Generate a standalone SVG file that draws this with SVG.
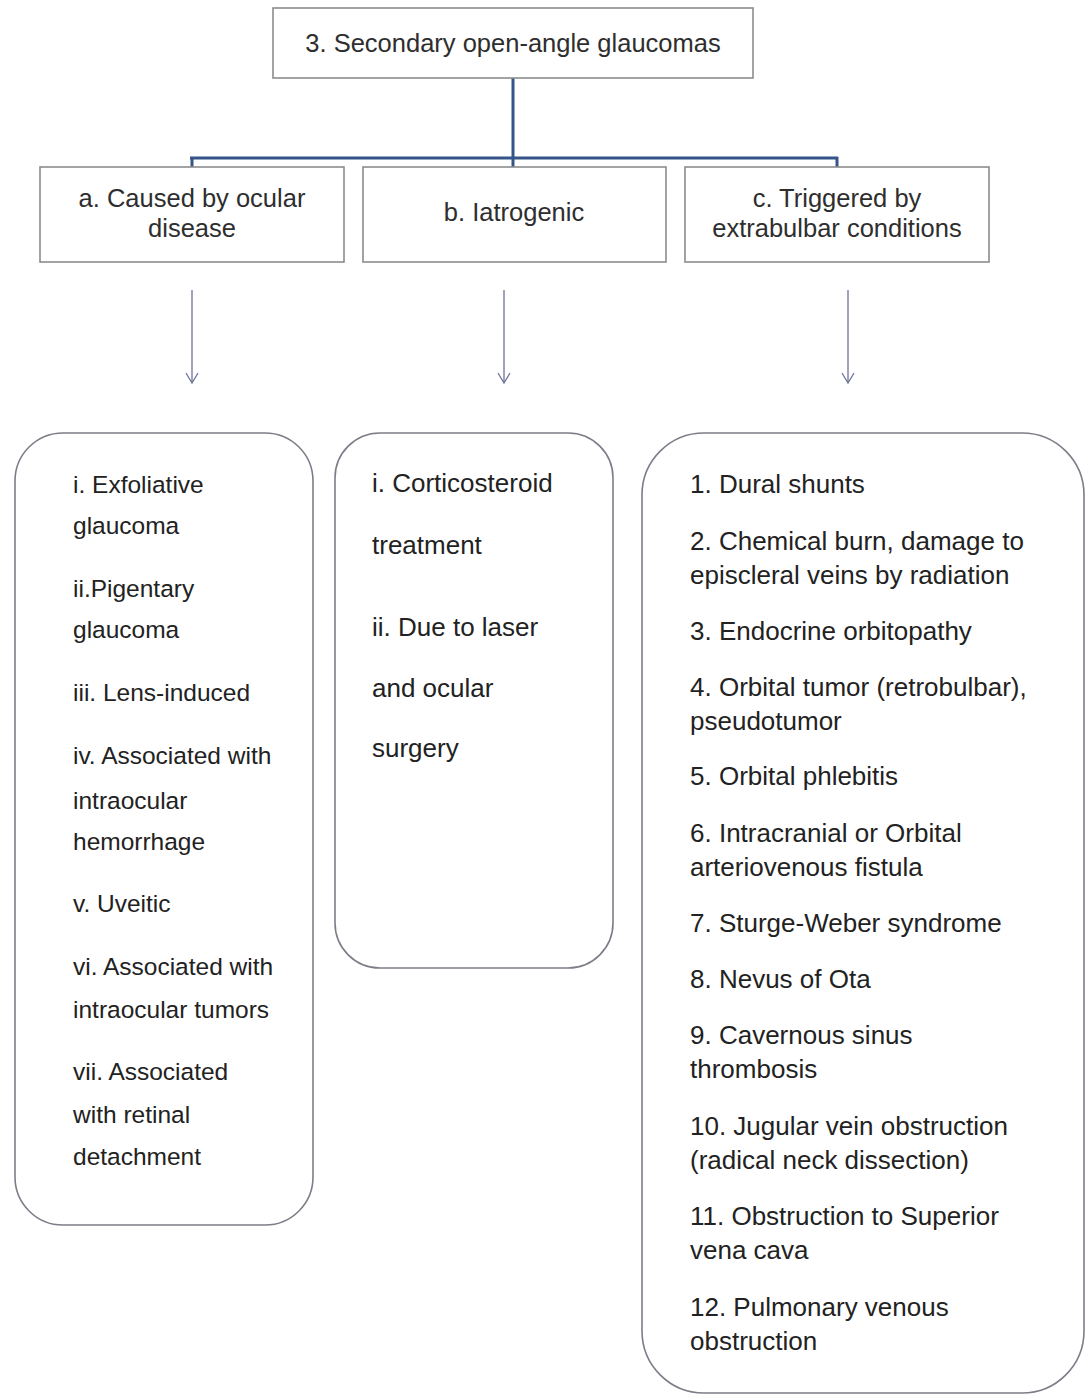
<svg xmlns="http://www.w3.org/2000/svg" width="1085" height="1396" viewBox="0 0 1085 1396">
<defs>
<style>
.box{fill:#fff;stroke:#8c8c8c;stroke-width:1.6}
.rbox{fill:#fff;stroke:#7d7d88;stroke-width:1.6}
.hd{font-family:"Liberation Sans",Arial,sans-serif;font-size:25.5px;fill:#2e2e2e;text-anchor:middle}
.it{font-family:"Liberation Sans",Arial,sans-serif;font-size:24.5px;fill:#222}
.it2{font-family:"Liberation Sans",Arial,sans-serif;font-size:26px;fill:#222}
.con{fill:none;stroke:#34548a;stroke-width:3}
.arr{fill:none;stroke:#6e7299;stroke-width:1.3}
</style>
<marker id="vh" viewBox="0 0 14 14" refX="13" refY="7" markerWidth="14" markerHeight="14" markerUnits="userSpaceOnUse" orient="auto">
<path d="M3,1 L13,7 L3,13" fill="none" stroke="#6e7299" stroke-width="1.3"/>
</marker>
</defs>
<rect width="1085" height="1396" fill="#fff"/>

<g id="connectors">
<path class="con" d="M513,78 V167"/>
<path class="con" d="M190,158 H838"/>
<path class="con" d="M192,157 V167"/>
<path class="con" d="M837,157 V167"/>
<path class="arr" d="M192,290 V383" marker-end="url(#vh)"/>
<path class="arr" d="M504,290 V383" marker-end="url(#vh)"/>
<path class="arr" d="M848,290 V383" marker-end="url(#vh)"/>
</g>

<g id="root">
<rect class="box" x="273" y="8" width="480" height="70"/>
<text class="hd" x="513" y="52">3. Secondary open-angle glaucomas</text>
</g>

<g id="a">
<rect class="box" x="40" y="167" width="304" height="95"/>
<text class="hd" x="192" y="207">a. Caused by ocular</text>
<text class="hd" x="192" y="237">disease</text>
</g>

<g id="b">
<rect class="box" x="363" y="167" width="303" height="95"/>
<text class="hd" x="514" y="221">b. Iatrogenic</text>
</g>

<g id="c">
<rect class="box" x="685" y="167" width="304" height="95"/>
<text class="hd" x="837" y="207">c. Triggered by</text>
<text class="hd" x="837" y="237">extrabulbar conditions</text>
</g>

<g id="a-list">
<rect class="rbox" x="15" y="433" width="298" height="792" rx="48" ry="48"/>
<text class="it" x="73" y="493">i. Exfoliative</text>
<text class="it" x="73" y="534">glaucoma</text>
<text class="it" x="73" y="597">ii.Pigentary</text>
<text class="it" x="73" y="638">glaucoma</text>
<text class="it" x="73" y="701">iii. Lens-induced</text>
<text class="it" x="73" y="764">iv. Associated with</text>
<text class="it" x="73" y="809">intraocular</text>
<text class="it" x="73" y="850">hemorrhage</text>
<text class="it" x="73" y="912">v. Uveitic</text>
<text class="it" x="73" y="975">vi. Associated with</text>
<text class="it" x="73" y="1018">intraocular tumors</text>
<text class="it" x="73" y="1080">vii. Associated</text>
<text class="it" x="73" y="1123">with retinal</text>
<text class="it" x="73" y="1165">detachment</text>
</g>

<g id="b-list">
<rect class="rbox" x="335" y="433" width="278" height="535" rx="45" ry="45"/>
<text class="it2" x="372" y="492">i. Corticosteroid</text>
<text class="it2" x="372" y="554">treatment</text>
<text class="it2" x="372" y="636">ii. Due to laser</text>
<text class="it2" x="372" y="697">and ocular</text>
<text class="it2" x="372" y="757">surgery</text>
</g>

<g id="c-list">
<rect class="rbox" x="642" y="433" width="442" height="960" rx="62" ry="62"/>
<text class="it2" x="690" y="493">1. Dural shunts</text>
<text class="it2" x="690" y="550">2. Chemical burn, damage to</text>
<text class="it2" x="690" y="584">episcleral veins by radiation</text>
<text class="it2" x="690" y="640">3. Endocrine orbitopathy</text>
<text class="it2" x="690" y="696">4. Orbital tumor (retrobulbar),</text>
<text class="it2" x="690" y="730">pseudotumor</text>
<text class="it2" x="690" y="785">5. Orbital phlebitis</text>
<text class="it2" x="690" y="842">6. Intracranial or Orbital</text>
<text class="it2" x="690" y="876">arteriovenous fistula</text>
<text class="it2" x="690" y="932">7. Sturge-Weber syndrome</text>
<text class="it2" x="690" y="988">8. Nevus of Ota</text>
<text class="it2" x="690" y="1044">9. Cavernous sinus</text>
<text class="it2" x="690" y="1078">thrombosis</text>
<text class="it2" x="690" y="1135">10. Jugular vein obstruction</text>
<text class="it2" x="690" y="1169">(radical neck dissection)</text>
<text class="it2" x="690" y="1225">11. Obstruction to Superior</text>
<text class="it2" x="690" y="1259">vena cava</text>
<text class="it2" x="690" y="1316">12. Pulmonary venous</text>
<text class="it2" x="690" y="1350">obstruction</text>
</g>
</svg>
